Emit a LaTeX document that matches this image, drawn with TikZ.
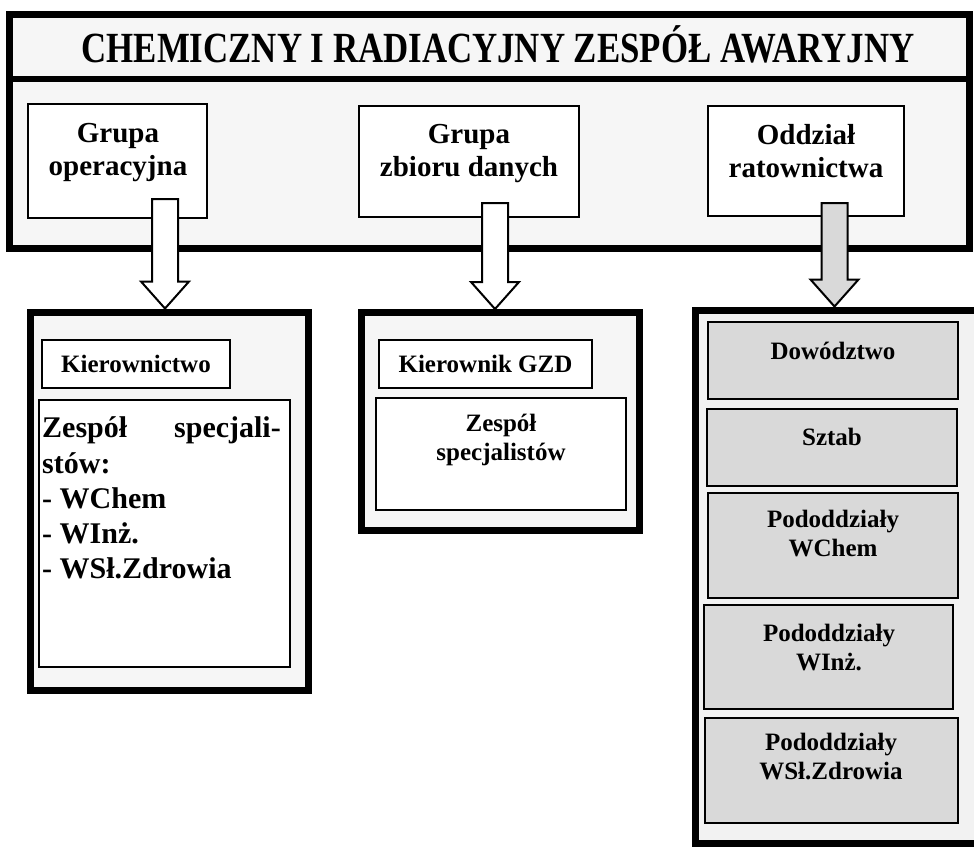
\documentclass[tikz,border=0pt]{standalone}
\usepackage{fontspec}
\setmainfont{Liberation Serif}
\usetikzlibrary{calc}

\tikzset{
  frame/.style={draw, line width=7pt, fill=gray!7, inner sep=0pt, outer sep=0pt, anchor=north west},
  topbox/.style={draw, line width=2.5pt, fill=white, inner sep=0pt, outer sep=0pt, anchor=north west},
  whitebox/.style={draw, line width=2pt, fill=white, inner sep=0pt, outer sep=0pt, anchor=north west},
  shadebox/.style={draw, line width=2pt, fill=gray!30, inner sep=0pt, outer sep=0pt, anchor=north west},
  titletxt/.style={font=\bfseries\fontsize{43}{48}\selectfont, inner sep=0pt, anchor=base},
  headtxt/.style={font=\bfseries\fontsize{29}{33}\selectfont, align=center, inner sep=0pt},
  bodytxt/.style={font=\bfseries\fontsize{25}{29}\selectfont, align=center, inner sep=0pt},
  listtxt/.style={font=\bfseries\fontsize{30}{35}\selectfont, inner sep=0pt},
  blockarrow/.style={draw, line width=2pt, fill=white, line join=miter},
}

% hollow block arrow: shaft starts at #2, tip rests on the outer edge of frame border #3
\newcommand\dropArrow[3][]{%
  \draw[blockarrow,#1] let \p1=(#2), \p2=(#3) in
    (\x1-13pt,\y1) -- (\x1+13pt,\y1) -- (\x1+13pt,\y2+30.5pt) -- (\x1+24pt,\y2+30.5pt)
    -- (\x1,\y2+3.5pt) -- (\x1-24pt,\y2+30.5pt) -- (\x1-13pt,\y2+30.5pt) -- cycle;}

\begin{document}
\begin{tikzpicture}[x=1pt, y=-1pt]
  \useasboundingbox (0,0) rectangle (974,847);
  \clip (0,0) rectangle (974,847);

  % ---- top frame with title bar ----
  \node[frame, minimum width=960pt, minimum height=234pt] (main) at (9,14) {};
  \draw[line width=6pt] (main.west |- 0,79) -- (main.east |- 0,79);
  \node[titletxt] (title) at (498,62)
    {\scalebox{0.81}[1]{CHEMICZNY I RADIACYJNY ZESPÓŁ AWARYJNY}};

  \node[topbox, minimum width=179pt, minimum height=114pt] (g1) at (28,104) {};
  \node[topbox, minimum width=220pt, minimum height=111pt] (g2) at (359,106) {};
  \node[topbox, minimum width=196pt, minimum height=110pt] (g3) at (708,106) {};
  \node[headtxt] (g1t) at (118,153) {Grupa\\operacyjna};
  \node[headtxt] (g2t) at (469,154) {Grupa\\zbioru danych};
  \node[headtxt] (g3t) at (806,151) {Oddział\\ratownictwa};

  % ---- lower frames ----
  \node[frame, minimum width=278pt, minimum height=378pt] (fa) at (30,312) {};
  \node[frame, minimum width=278pt, minimum height=218pt] (fb) at (361.5,312.5) {};
  \node[frame, fill=gray!10, minimum width=305pt, minimum height=533pt] (fc) at (695,310) {};

  % operational group
  \node[whitebox, minimum width=188pt, minimum height=48pt] (kier) at (42,340) {};
  \node[bodytxt] (kiert) at (136,364) {Kierownictwo};
  \node[whitebox, minimum width=251pt, minimum height=267pt] (zesa) at (39,400) {};
  \node[listtxt, anchor=base west] (l1a) at (42,437) {Zespół};
  \node[listtxt, anchor=base east] (l1b) at (281,437) {specjali-};
  \node[listtxt, anchor=base west] (l2) at (42,473) {stów:};
  \node[listtxt, anchor=base west] (l3) at (42,508) {- WChem};
  \node[listtxt, anchor=base west] (l4) at (42,543) {- WInż.};
  \node[listtxt, anchor=base west] (l5) at (42,578) {- WSł.Zdrowia};

  % data group
  \node[whitebox, minimum width=213pt, minimum height=48pt] (kgzd) at (379,340) {};
  \node[bodytxt] (kgzdt) at (485.5,364) {Kierownik GZD};
  \node[whitebox, minimum width=250pt, minimum height=112pt] (zesb) at (376,398) {};
  \node[bodytxt] (zesbt) at (501,440) {Zespół\\specjalistów};

  % rescue unit
  \node[shadebox, minimum width=250pt, minimum height=77pt] (r1) at (708,322) {};
  \node[shadebox, minimum width=250pt, minimum height=77pt] (r2) at (707,409) {};
  \node[shadebox, minimum width=250pt, minimum height=105pt] (r3) at (708,493) {};
  \node[shadebox, minimum width=249pt, minimum height=104pt] (r4) at (704,605) {};
  \node[shadebox, minimum width=253pt, minimum height=105pt] (r5) at (705,718) {};
  \node[bodytxt] (r1t) at (833,351) {Dowództwo};
  \node[bodytxt] (r2t) at (832,437) {Sztab};
  \node[bodytxt] (r3t) at (833,534) {Pododdziały\\WChem};
  \node[bodytxt] (r4t) at (829,648) {Pododdziały\\WInż.};
  \node[bodytxt] (r5t) at (831,757) {Pododdziały\\WSł.Zdrowia};

  % ---- block arrows ----
  \coordinate (a1s) at (165,199);
  \coordinate (a2s) at (495,203);
  \coordinate (a3s) at (834.5,203);
  \dropArrow{a1s}{fa.north}
  \dropArrow{a2s}{fb.north}
  \dropArrow[fill=gray!30]{a3s}{fc.north}
\end{tikzpicture}
\end{document}
